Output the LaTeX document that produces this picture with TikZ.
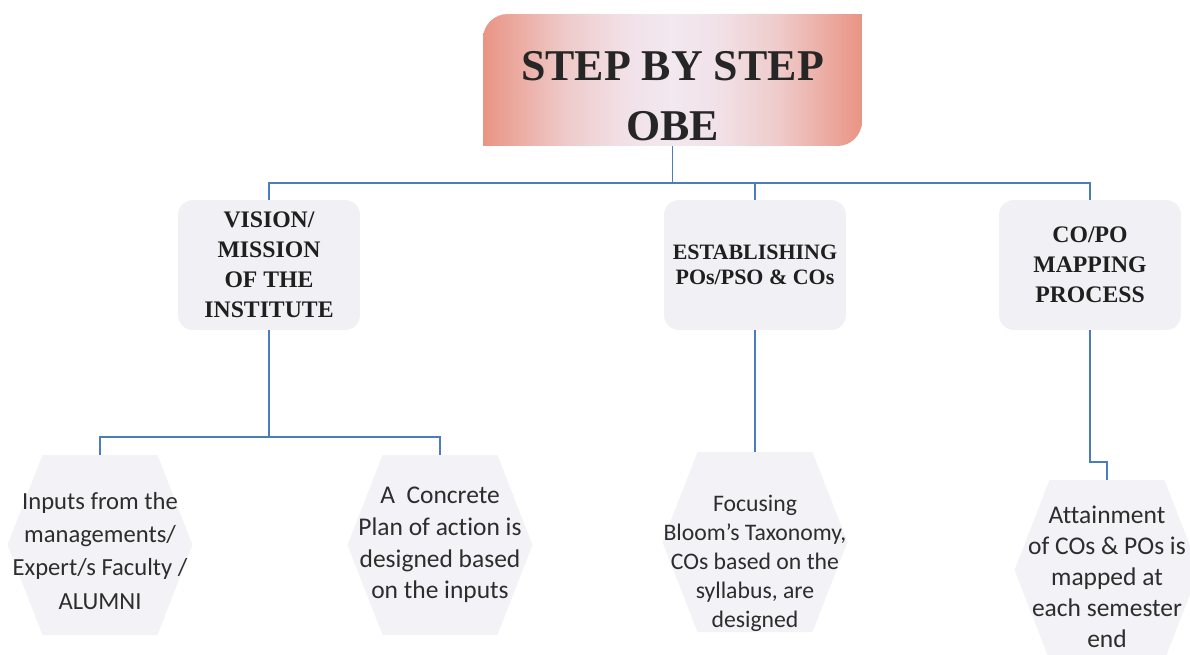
\documentclass[tikz,border=0pt]{standalone}
\usepackage{fontspec}
\setmainfont{Liberation Serif}
\newfontfamily\hexfont[Ligatures=NoCommon]{Carlito}
\usepackage{tikz}
\definecolor{tedge}{RGB}{233,148,132}
\definecolor{tmid}{RGB}{242,232,240}
\definecolor{boxgray}{RGB}{241,241,245}
\definecolor{hexgray}{RGB}{243,243,247}
\definecolor{lineblue}{RGB}{74,126,187}
\definecolor{txtgray}{RGB}{45,45,45}
\pgfdeclarehorizontalshading{titleshade}{100bp}{color(0bp)=(tedge); color(25bp)=(tedge);
  color(36bp)=(tmid!65!tedge); color(44bp)=(tmid!92!tedge); color(50bp)=(tmid);
  color(56bp)=(tmid!92!tedge); color(64bp)=(tmid!65!tedge); color(75bp)=(tedge); color(100bp)=(tedge)}
\tikzstyle{titlebox} = [rectangle, inner sep=0pt, minimum width=7.58cm, minimum height=2.64cm,
  align=center, text=black!85, font={\bfseries\fontsize{25}{34}\selectfont},
  path picture={\shade[shading=titleshade]
    (path picture bounding box.south west) [rounded corners=14pt] -- (path picture bounding box.north west)
    [sharp corners] -- (path picture bounding box.north east) [rounded corners=14pt]
    -- (path picture bounding box.south east) [sharp corners] -- cycle;}]
\tikzstyle{head} = [rectangle, fill=boxgray, rounded corners=0.3cm, inner sep=1pt,
  minimum width=3.64cm, minimum height=2.6cm, align=center, text=black!88,
  font={\bfseries\fontsize{13.5}{17}\selectfont}]
\tikzstyle{hexa} = [rectangle, inner sep=0pt, minimum width=3.7cm, align=center, text=txtgray,
  font={\hexfont\fontsize{14.5}{18}\selectfont},
  path picture={\fill[hexgray]
    ([xshift=0.7cm]path picture bounding box.north west) -- ([xshift=-0.7cm]path picture bounding box.north east)
    -- ([yshift=-1.8cm]path picture bounding box.north east)
    -- ([xshift=-0.7cm, yshift=-3.6cm]path picture bounding box.north east)
    -- ([xshift=0.7cm, yshift=-3.6cm]path picture bounding box.north west)
    -- ([yshift=-1.8cm]path picture bounding box.north west) -- cycle;}]
\tikzstyle{link} = [draw=lineblue, line width=1.1pt]

\begin{document}
\begin{tikzpicture}[x=0.02cm, y=-0.02cm]
    \path[use as bounding box, fill=white] (0,0) rectangle (1190,654);
    \node[titlebox] (n0) at (672.5,80) {\rule{0pt}{35pt}STEP BY STEP\\OBE};
    \node[head] (n1) at (269,265) {VISION/\\MISSION\\OF THE\\INSTITUTE};
    \node[head, font={\bfseries\fontsize{12.5}{14.5}\selectfont}] (n2) at (755,265) {ESTABLISHING\\POs/PSO \& COs};
    \node[head] (n3) at (1090,265) {CO/PO\\MAPPING\\PROCESS};
    \node[hexa, minimum height=3.84cm, font={\hexfont\fontsize{14}{18.8}\selectfont}] (n4) at (100,551)
      {Inputs from the\\managements/\\Expert/s Faculty /\\ALUMNI};
    \node[hexa, minimum height=3.6cm] (n5) at (440,545)
      {A\ \ Concrete\\Plan of action is\\designed based\\on the inputs};
    \node[hexa, minimum height=4.44cm, font={\hexfont\fontsize{13.5}{16.5}\selectfont}] (n6) at (755,563)
      {Focusing\\Bloom’s Taxonomy,\\COs based on the\\syllabus, are\\designed};
    \node[hexa, minimum height=3.88cm, font={\hexfont\fontsize{14.5}{17.6}\selectfont}] (n7) at (1107,577)
      {Attainment\\of COs \& POs is\\mapped at\\each semester\\end};
    \draw[link] (n0.south) -- ++(0,37) coordinate (h0);
    \draw[link] (n1.north) |- (h0) -| (n3.north);
    \draw[link] (n2.north) -- (n2.north |- h0);
    \draw[link] (n1.south) -- ++(0,107) coordinate (h1);
    \draw[link] (n4.north) |- (h1) -| (n5.north);
    \draw[link] (n2.south) -- (n6.north);
    \draw[link] (n3.south) -- ++(0,132) -| (n7.north);
  \end{tikzpicture}
\end{document}
